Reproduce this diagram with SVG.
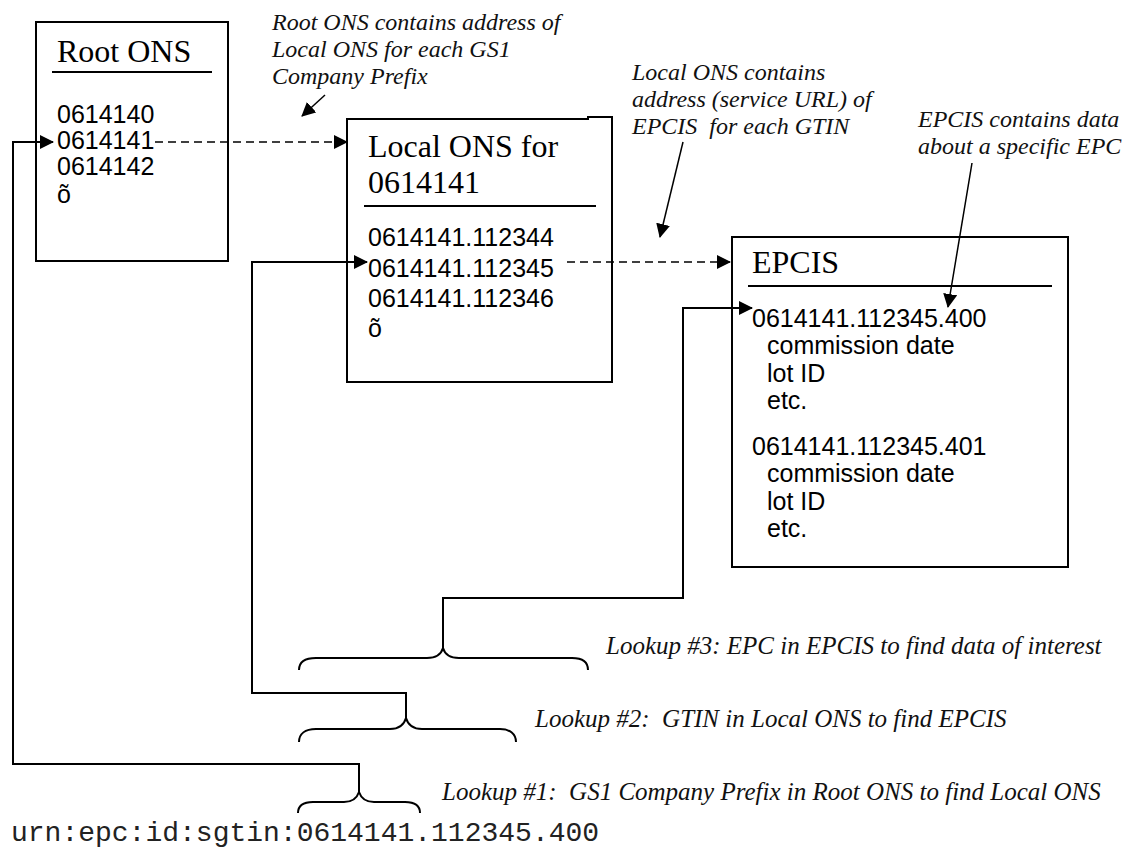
<svg xmlns="http://www.w3.org/2000/svg" width="1128" height="850" viewBox="0 0 1128 850">
  <style>
    .box { fill: #fff; stroke: #000; stroke-width: 2; }
    .rule { stroke: #000; stroke-width: 2; fill: none; }
    .head { font-family: "Liberation Serif", "Times New Roman", serif; font-size: 32px; fill: #000; }
    .body { font-family: "Liberation Sans", Arial, sans-serif; font-size: 25px; fill: #000; }
    .note { font-family: "Liberation Serif", "Times New Roman", serif; font-style: italic; font-size: 24px; fill: #111; white-space: pre; }
    .step { font-size: 25px; }
    .urn { font-family: "Liberation Mono", "Courier New", monospace; font-size: 28px; fill: #222; }
    .link { fill: none; stroke: #000; stroke-width: 2; }
    .pointer { fill: none; stroke: #000; stroke-width: 1.5; }
    .dash { fill: none; stroke: #000; stroke-width: 1.6; stroke-dasharray: 8 5; }
    .brace { fill: none; stroke: #000; stroke-width: 2; }
  </style>
  <defs>
    <marker id="tri" viewBox="0 0 14 14" refX="13" refY="7" markerWidth="14" markerHeight="14" markerUnits="userSpaceOnUse" orient="auto">
      <path d="M0,0 L14,7 L0,14 Z" fill="#000"/>
    </marker>
  </defs>

  <rect width="1128" height="850" fill="#fff"/>

  <!-- Root ONS server -->
  <g id="root-ons">
    <rect class="box" x="36" y="22" width="192" height="239"/>
    <text class="head" x="57" y="62">Root ONS</text>
    <line class="rule" x1="52" y1="72" x2="212" y2="72"/>
    <text class="body" x="57" y="123">0614140</text>
    <text class="body" x="57" y="149">0614141</text>
    <text class="body" x="57" y="175">0614142</text>
    <text class="body" x="57" y="203">õ</text>
  </g>

  <!-- Local ONS server for company prefix 0614141 (top edge has a small step near the right corner) -->
  <g id="local-ons">
    <path class="box" d="M347,119 L588,119 L588,117 L612,117 L612,382 L347,382 Z"/>
    <text class="head" x="368" y="157">Local ONS for</text>
    <text class="head" x="368" y="193">0614141</text>
    <line class="rule" x1="364" y1="206" x2="596" y2="206"/>
    <text class="body" x="368" y="246">0614141.112344</text>
    <text class="body" x="368" y="277">0614141.112345</text>
    <text class="body" x="368" y="307">0614141.112346</text>
    <text class="body" x="368" y="337">õ</text>
  </g>

  <!-- EPCIS repository -->
  <g id="epcis">
    <rect class="box" x="732" y="237" width="336" height="330"/>
    <text class="head" x="752" y="273">EPCIS</text>
    <line class="rule" x1="748" y1="286" x2="1052" y2="286"/>
    <text class="body" x="752" y="327">0614141.112345.400</text>
    <text class="body" x="767" y="354">commission date</text>
    <text class="body" x="767" y="382">lot ID</text>
    <text class="body" x="767" y="409">etc.</text>
    <text class="body" x="752" y="455">0614141.112345.401</text>
    <text class="body" x="767" y="482">commission date</text>
    <text class="body" x="767" y="510">lot ID</text>
    <text class="body" x="767" y="537">etc.</text>
  </g>

  <!-- Annotations -->
  <g id="note-root">
    <text class="note" x="272" y="30">Root ONS contains address of</text>
    <text class="note" x="272" y="57">Local ONS for each GS1</text>
    <text class="note" x="272" y="84">Company Prefix</text>
  </g>
  <g id="note-local">
    <text class="note" x="632" y="80">Local ONS contains</text>
    <text class="note" x="632" y="107">address (service URL) of</text>
    <text class="note" x="632" y="134">EPCIS  for each GTIN</text>
  </g>
  <g id="note-epcis">
    <text class="note" x="918" y="127">EPCIS contains data</text>
    <text class="note" x="918" y="154">about a specific EPC</text>
  </g>
  <g id="note-lookups">
    <text class="note step" x="606" y="654">Lookup #3: EPC in EPCIS to find data of interest</text>
    <text class="note step" x="535" y="727">Lookup #2:  GTIN in Local ONS to find EPCIS</text>
    <text class="note step" x="442" y="800">Lookup #1:  GS1 Company Prefix in Root ONS to find Local ONS</text>
  </g>

  <!-- EPC URN being resolved -->
  <g id="urn">
    <text class="urn" x="11" y="841">urn:epc:id:sgtin:0614141.112345.400</text>
  </g>

  <!-- Braces over the URN segments -->
  <g id="braces">
    <path class="brace" d="M299,670 C299,662 305,658 316,658 L427,658 C436,658 441,655 443,648 C445,655 450,658 459,658 L572,658 C582,658 588,662 588,670"/>
    <path class="brace" d="M299,742 C299,734 305,729 316,729 L390,729 C399,729 404,725 406,718 C408,725 413,729 422,729 L500,729 C510,729 516,734 516,742"/>
    <path class="brace" d="M298,813 C298,806 303,802 313,802 L344,802 C352,802 357,798 359,792 C361,798 366,802 374,802 L405,802 C415,802 420,806 420,813"/>
  </g>

  <!-- Connectors -->
  <g id="connectors">
    <path class="link" d="M359,792 L359,764 L13,764 L13,142 L53,142" marker-end="url(#tri)"/>
    <path class="link" d="M406,718 L406,693 L252,693 L252,262 L367,262" marker-end="url(#tri)"/>
    <path class="link" d="M443,648 L443,598 L683,598 L683,308 L752,308" marker-end="url(#tri)"/>
    <path class="dash" d="M155,142 L347,142" marker-end="url(#tri)"/>
    <path class="dash" d="M567,262 L730,262" marker-end="url(#tri)"/>
    <path class="pointer" d="M325,95 L302,116" marker-end="url(#tri)"/>
    <path class="pointer" d="M683,142 L660,237" marker-end="url(#tri)"/>
    <path class="pointer" d="M972,163 L948,307" marker-end="url(#tri)"/>
  </g>
</svg>
